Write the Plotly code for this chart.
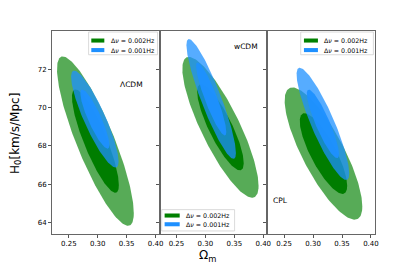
import numpy as np
import plotly.graph_objects as go

# ---- data ----
models = ["ΛCDM", "wCDM", "CPL"]
labels = ["Δ<i>ν</i> = 0.002Hz", "Δ<i>ν</i> = 0.001Hz"]

# Δν = 0.002Hz (green) : centre, sigmas, correlation
g_om = [0.296, 0.326, 0.318]
g_h0 = [68.25, 68.97, 67.60]
g_som = [0.0267, 0.0265, 0.0270]
g_sh0 = [1.78, 1.48, 1.39]
g_rho = [-0.85, -0.83, -0.80]

# Δν = 0.001Hz (blue)
b_om = [0.295, 0.310, 0.317]
b_h0 = [69.40, 70.45, 69.15]
b_som = [0.0165, 0.0172, 0.0183]
b_sh0 = [1.02, 1.26, 1.18]
b_rho = [-0.87, -0.90, -0.88]

levels = [2.30, 6.17]  # 68% and 95% Δχ² for 2 parameters

x_ticks = [0.25, 0.30, 0.35, 0.40]
y_ticks = [64, 66, 68, 70, 72]
x_range = [0.221, 0.407]
y_range = [63.4, 74.0]

GREEN_OUT = "rgba(0,128,0,0.66)"
GREEN_IN = "rgb(0,125,0)"
BLUE_OUT = "rgba(30,144,255,0.75)"
BLUE_IN = "rgba(30,144,255,0.95)"
FONT = "DejaVu Sans"


def ellipse(x0, y0, sx, sy, rho, dchi2, n=200):
    k = np.sqrt(dchi2)
    t = np.linspace(0, 2 * np.pi, n)
    x = x0 + k * sx * np.cos(t)
    y = y0 + k * sy * (rho * np.cos(t) + np.sqrt(1 - rho ** 2) * np.sin(t))
    return x, y


fig = go.Figure()
OFF = 8  # page body margin
W, H = 415 - OFF, 264 - OFF
ml, mr, mt, mb = 51.7 - OFF, 40.3, 31 - OFF, 30.3
doms = [[0, 1 / 3], [1 / 3, 2 / 3], [2 / 3, 1]]

for i in range(3):
    xa = "x" if i == 0 else f"x{i+1}"
    ya = "y" if i == 0 else f"y{i+1}"
    sets = [
        (g_om[i], g_h0[i], g_som[i], g_sh0[i], g_rho[i], GREEN_OUT, GREEN_IN),
        (b_om[i], b_h0[i], b_som[i], b_sh0[i], b_rho[i], BLUE_OUT, BLUE_IN),
    ]
    for (x0, y0, sx, sy, rho, cout, cin) in sets:
        for lev, col in [(levels[1], cout), (levels[0], cin)]:
            ex, ey = ellipse(x0, y0, sx, sy, rho, lev)
            fig.add_trace(go.Scatter(x=ex, y=ey, mode="lines", fill="toself",
                                     fillcolor=col, line=dict(width=0),
                                     xaxis=xa, yaxis=ya, showlegend=False,
                                     hoverinfo="skip"))

axis_common = dict(showline=True, linecolor="#666", linewidth=1, mirror=True,
                   ticks="outside", ticklen=3, tickwidth=0.8, tickcolor="#555",
                   showgrid=False, zeroline=False, automargin=False,
                   tickfont=dict(family=FONT, size=7, color="black"))

layout = dict(width=W, height=H,
              margin=dict(l=ml, r=mr, t=mt, b=mb, autoexpand=False),
              paper_bgcolor="white", plot_bgcolor="white", showlegend=False)
for i in range(3):
    xk = "xaxis" if i == 0 else f"xaxis{i+1}"
    yk = "yaxis" if i == 0 else f"yaxis{i+1}"
    yanchor = "y" if i == 0 else f"y{i+1}"
    xanchor = "x" if i == 0 else f"x{i+1}"
    layout[xk] = dict(axis_common, domain=doms[i], range=x_range, anchor=yanchor,
                      tickvals=x_ticks, ticktext=[f"{v:.2f}" for v in x_ticks])
    layout[yk] = dict(axis_common, domain=[0, 1], range=y_range, anchor=xanchor,
                      tickvals=y_ticks, showticklabels=(i == 0))
fig.update_layout(**layout)

# panel labels
lab_pos = [(0.743, 0.734), (0.80, 0.923), (0.119, 0.163)]
for i, (m, (px, py)) in enumerate(zip(models, lab_pos)):
    xa = "x" if i == 0 else f"x{i+1}"
    ya = "y" if i == 0 else f"y{i+1}"
    fig.add_annotation(text=m, xref=f"{xa} domain", yref=f"{ya} domain", x=px, y=py,
                       xanchor="center", yanchor="middle",
                       showarrow=False, font=dict(family=FONT, size=7.5, color="black"))

# legends (box, patch, text) in domain coordinates
leg = [
    dict(box=(0.34, 0.98, 0.883, 0.995), patch=(0.365, 0.486), ty=(0.953, 0.906), tx=0.53),
    dict(box=(0.019, 0.696, 0.015, 0.12), patch=(0.046, 0.186), ty=(0.091, 0.048), tx=0.225),
    dict(box=(0.31, 0.985, 0.883, 0.995), patch=(0.34, 0.47), ty=(0.953, 0.906), tx=0.51),
]
for i, L in enumerate(leg):
    xa = "x" if i == 0 else f"x{i+1}"
    ya = "y" if i == 0 else f"y{i+1}"
    xr, yr = f"{xa} domain", f"{ya} domain"
    x0, x1, y0, y1 = L["box"]
    fig.add_shape(type="rect", xref=xr, yref=yr, x0=x0, x1=x1, y0=y0, y1=y1,
                  line=dict(color="#d0d0d0", width=0.8), fillcolor="rgba(255,255,255,0.85)")
    for j, col in enumerate(["rgb(0,128,0)", "rgb(30,144,255)"]):
        yc = L["ty"][j]
        fig.add_shape(type="rect", xref=xr, yref=yr, x0=L["patch"][0], x1=L["patch"][1],
                      y0=yc - 0.01, y1=yc + 0.01, line=dict(width=0), fillcolor=col)
        fig.add_annotation(text=labels[j], xref=xr, yref=yr, x=L["tx"], y=yc,
                           xanchor="left", yanchor="middle", showarrow=False,
                           font=dict(family=FONT, size=6.3, color="black"))

# axis titles
fig.add_annotation(text="H<sub>0</sub>[km/s/Mpc]", xref="paper", yref="paper",
                   x=(15.5 - 51.7) / 323, y=0.497, textangle=-90, showarrow=False,
                   xanchor="center", yanchor="middle",
                   font=dict(family=FONT, size=12, color="black"))
fig.add_annotation(text="Ω<sub>m</sub>", xref="paper", yref="paper",
                   x=(206.7 - 51.7) / 323, y=(233.7 - 256) / 202.7, showarrow=False,
                   xanchor="center", yanchor="middle",
                   font=dict(family=FONT, size=12, color="black"))

fig.write_html("out.html")
